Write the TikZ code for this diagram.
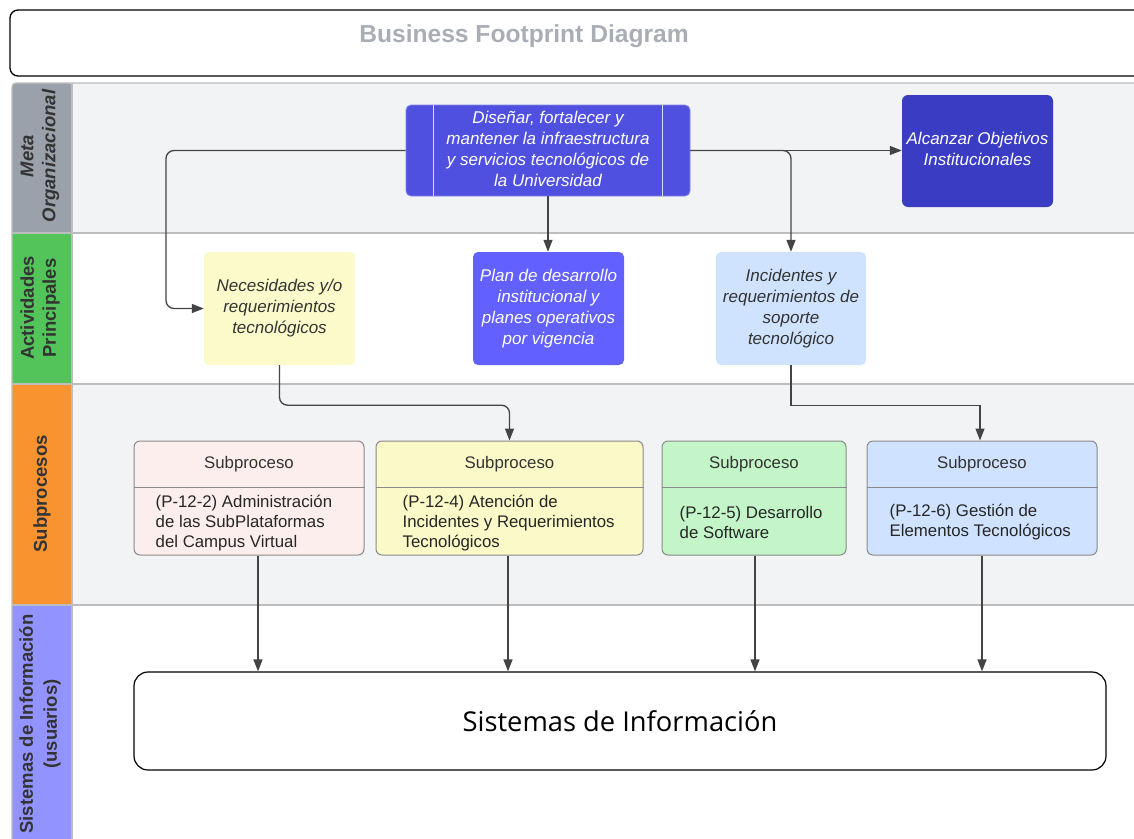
\documentclass[tikz,border=0pt]{standalone}
\usepackage{fontspec}
\setmainfont{Liberation Sans}
\newfontfamily\opensans{Open Sans}
\usetikzlibrary{arrows.meta,calc}

\definecolor{titletext}{HTML}{A9AEB6}
\definecolor{lanegray}{HTML}{9BA1AB}
\definecolor{lanegreen}{HTML}{52C45A}
\definecolor{laneorange}{HTML}{F8932F}
\definecolor{lanepurple}{HTML}{9393FF}
\definecolor{laneback}{HTML}{F2F3F5}
\definecolor{laneline}{HTML}{BDBDBD}
\definecolor{labeltext}{HTML}{333333}
\definecolor{goalblue}{HTML}{5050E0}
\definecolor{goaldark}{HTML}{3A3CC4}
\definecolor{planblue}{HTML}{6260FF}
\definecolor{needyellow}{HTML}{FAFACB}
\definecolor{incblue}{HTML}{CFE3FF}
\definecolor{sppink}{HTML}{FDEEEE}
\definecolor{spyellow}{HTML}{FAFAC8}
\definecolor{spgreen}{HTML}{C3F5C8}
\definecolor{spblue}{HTML}{CFE2FF}
\definecolor{subline}{HTML}{8A8A8A}
\definecolor{connline}{HTML}{444444}

\tikzset{
  lanelabel/.style={font=\bfseries\fontsize{18.5}{23}\selectfont, text=labeltext, rotate=90, align=center},
  actbox/.style={rounded corners=5pt, minimum width=151pt, minimum height=113pt, inner sep=0pt,
    align=center, font=\itshape\fontsize{17}{21}\selectfont},
  subbox/.style={draw=subline, line width=1pt, rounded corners=6pt, minimum height=114pt, inner sep=0pt},
  subhead/.style={font=\fontsize{16.8}{20}\selectfont, text=labeltext},
  subbody/.style={font=\fontsize{16.8}{20}\selectfont, text=black!85, align=left, anchor=west, inner sep=0pt},
  conn/.style={draw=connline, line width=1.3pt, -{Triangle[length=12pt,width=9pt]}},
}

\begin{document}
\begin{tikzpicture}[x=1pt,y=-1pt]
\useasboundingbox (0,0) rectangle (1134,838);

% title bar
\draw[line width=1.3pt, rounded corners=8pt] (10,10) rectangle (1150,76);
\node[font=\bfseries\fontsize{24.6}{28}\selectfont, text=titletext] (title) at (524,36) {Business Footprint Diagram};

% swimlane backgrounds
\fill[laneback] (72,83) rectangle (1140,233);
\fill[white] (72,233) rectangle (1140,384);
\fill[laneback] (72,384) rectangle (1140,605);
\fill[white] (72,605) rectangle (1140,845);

% swimlane headers
\fill[lanegray, rounded corners=4pt] (12,83) rectangle (72,240);
\fill[lanegray] (12,200) rectangle (72,233);
\fill[lanegreen] (12,233) rectangle (72,384);
\fill[laneorange] (12,384) rectangle (72,605);
\fill[lanepurple] (12,605) rectangle (72,845);

% swimlane borders
\draw[laneline, line width=1.6pt] (12,233) -- (1140,233);
\draw[laneline, line width=1.6pt] (12,384) -- (1140,384);
\draw[laneline, line width=1.6pt] (12,605) -- (1140,605);
\draw[laneline, line width=1.6pt] (72,83) -- (72,845);
\draw[laneline, line width=1.2pt] (12,845) -- (12,87) arc[start angle=180, end angle=90, radius=4pt] -- (1140,83);

\node[lanelabel, font=\bfseries\itshape\fontsize{18.5}{22}\selectfont] (l1) at (40,156) {Meta\\Organizacional};
\node[lanelabel, font=\bfseries\fontsize{18.5}{22}\selectfont] (l2) at (40,308) {Actividades\\Principales};
\node[lanelabel] (l3) at (42,494) {Subprocesos};
\node[lanelabel, font=\bfseries\fontsize{18.5}{24}\selectfont] (l4) at (40,724) {Sistemas de Información\\(usuarios)};

% organisational goal
\node[fill=goalblue, draw=goalblue!70!white, line width=0.8pt, rounded corners=5pt,
      minimum width=284pt, minimum height=91pt, inner sep=0pt] (goal) at (548,150.5) {};
\draw[white!80!goalblue, line width=1pt] ([xshift=28pt]goal.north west) -- ([xshift=28pt]goal.south west);
\draw[white!80!goalblue, line width=1pt] ([xshift=-28pt]goal.north east) -- ([xshift=-28pt]goal.south east);
\node[text=white, align=center, font=\itshape\fontsize{17}{21}\selectfont] (goaltext) at (548,148.5)
  {Diseñar, fortalecer y\\mantener la infraestructura\\y servicios tecnológicos de\\la Universidad};

\node[fill=goaldark, rounded corners=6pt, minimum width=151pt, minimum height=112pt, inner sep=0pt] (alc) at (977.5,151) {};
\node[text=white, align=center, font=\itshape\fontsize{17}{21}\selectfont] (alctext) at (977.5,149)
  {Alcanzar Objetivos\\Institucionales};

% main activities
\node[actbox, fill=needyellow, text=labeltext] (nec) at (279.5,308.5) {Necesidades y/o\\requerimientos\\tecnológicos};
\node[actbox, fill=planblue, text=white] (plan) at (548.5,308.5) {Plan de desarrollo\\institucional y\\planes operativos\\por vigencia};
\node[actbox, fill=incblue, text=labeltext, minimum width=150pt] (inc) at (791,308.5) {Incidentes y\\requerimientos de\\soporte\\tecnológico};

% subprocesses
\node[subbox, fill=sppink, minimum width=230pt] (sp1) at (249,498) {};
\node[subbox, fill=spyellow, minimum width=267pt] (sp2) at (509.5,498) {};
\node[subbox, fill=spgreen, minimum width=184pt] (sp3) at (754,498) {};
\node[subbox, fill=spblue, minimum width=230pt] (sp4) at (982,498) {};
\foreach \s in {sp1,sp2,sp3,sp4}{
  \draw[subline, line width=1pt] ([yshift=-47pt]\s.north west) -- ([yshift=-47pt]\s.north east);
  \node[subhead] at ([yshift=-24pt]\s.north) {Subproceso};
}
\node[subbody] (b1) at ([xshift=22pt,yshift=-25pt]sp1.west) {(P-12-2) Administración\\de las SubPlataformas\\del Campus Virtual};
\node[subbody] (b2) at ([xshift=27pt,yshift=-25pt]sp2.west) {(P-12-4) Atención de\\Incidentes y Requerimientos\\Tecnológicos};
\node[subbody] (b3) at ([xshift=18pt,yshift=-24pt]sp3.west) {(P-12-5) Desarrollo\\de Software};
\node[subbody] (b4) at ([xshift=23pt,yshift=-24pt]sp4.west) {(P-12-6) Gestión de\\Elementos Tecnológicos};

% information systems
\node[draw=black, line width=1.2pt, rounded corners=14pt, fill=white, minimum width=972pt, minimum height=98pt,
      font=\opensans\fontsize{27.3}{32}\selectfont] (si) at (620,721) {Sistemas de Información};

% connectors
\draw[conn, rounded corners=8pt] (goal.west) -| (166,230) |- (nec.west);
\draw[conn] (goal.south) -- (goal.south |- plan.north);
\draw[conn] (goal.east) -- (goal.east -| alc.west);
\draw[conn, rounded corners=8pt] (goal.east) -| (inc.north);
\draw[conn, rounded corners=8pt] (nec.south) -- ++(0,40) -| (sp2.north);
\draw[conn] (inc.south) -- ++(0,40) -| ([xshift=-2pt]sp4.north);
\draw[conn] ([xshift=9pt]sp1.south) -- ([xshift=9pt]sp1.south |- si.north);
\draw[conn] ([xshift=-1.5pt]sp2.south) -- ([xshift=-1.5pt]sp2.south |- si.north);
\draw[conn] ([xshift=1pt]sp3.south) -- ([xshift=1pt]sp3.south |- si.north);
\draw[conn] (sp4.south) -- (sp4.south |- si.north);
\end{tikzpicture}
\end{document}
